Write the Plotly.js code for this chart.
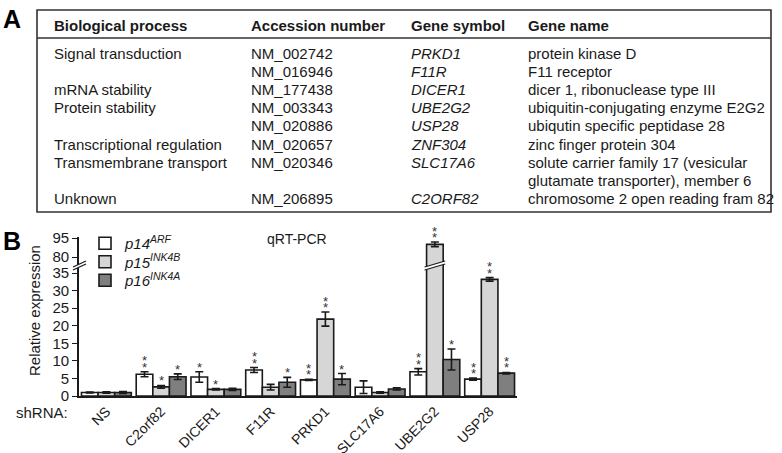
<!DOCTYPE html>
<html>
<head>
<meta charset="utf-8">
<script src="https://cdn.plot.ly/plotly-3.0.1.min.js"></script>
<style>html,body{margin:0;padding:0;background:#fff;}#chart{width:782px;height:453px;}</style>
</head>
<body>
<div id="chart"></div>
<script>
// ---------- Panel A table data ----------
var tableHeaders = ['Biological process', 'Accession number', 'Gene symbol', 'Gene name'];
var processes = ['Signal transduction', '', 'mRNA stability', 'Protein stability', '', 'Transcriptional regulation', 'Transmembrane transport', '', 'Unknown'];
var accessions = ['NM_002742', 'NM_016946', 'NM_177438', 'NM_003343', 'NM_020886', 'NM_020657', 'NM_020346', '', 'NM_206895'];
var geneSymbols = ['PRKD1', 'F11R', 'DICER1', 'UBE2G2', 'USP28', 'ZNF304', 'SLC17A6', '', 'C2ORF82'];
var geneNames = ['protein kinase D', 'F11 receptor', 'dicer 1, ribonuclease type III', 'ubiquitin-conjugating enzyme E2G2', 'ubiqutin specific peptidase 28', 'zinc finger protein 304', 'solute carrier family 17 (vesicular', 'glutamate transporter), member 6', 'chromosome 2 open reading fram 82'];

// ---------- Panel B bar data ----------
var categories = ['NS', 'C2orf82', 'DICER1', 'F11R', 'PRKD1', 'SLC17A6', 'UBE2G2', 'USP28'];
var seriesNames = ['<i>p14<sup>ARF</sup></i>', '<i>p15<sup>INK4B</sup></i>', '<i>p16<sup>INK4A</sup></i>'];
var p14 = [1.0, 6.2, 5.4, 7.4, 4.6, 2.5, 6.9, 4.8];
var p14Err = [0.15, 0.7, 1.5, 0.7, 0.15, 1.8, 0.9, 0.3];
var p15 = [1.0, 2.6, 1.9, 2.5, 21.9, 1.0, 90.0, 33.2];
var p15Err = [0.2, 0.4, 0.2, 0.8, 2.0, 0.2, 1.8, 0.5];
var p16 = [1.0, 5.5, 1.9, 3.9, 4.8, 2.0, 10.4, 6.5];
var p16Err = [0.3, 0.8, 0.3, 1.4, 1.6, 0.3, 3.0, 0.2];
var p14Stars = [0, 2, 1, 2, 2, 0, 2, 2];
var p15Stars = [0, 1, 1, 0, 2, 0, 2, 2];
var p16Stars = [0, 1, 0, 1, 1, 0, 1, 2];
var lowerTicks = [0, 5, 10, 15, 20, 25, 30, 35];
var upperTicks = [80, 95];

// ---------- layout helpers ----------
var W = 782, H = 453;
function px(x) { return x / W; }
function py(y) { return 1 - y / H; }
var FONT = 'Liberation Sans';
var TXT = '#1a1a1a';
var colors = ['#ffffff', '#d6d6d6', '#7f7f7f'];
var lowerMax = 37.3;
var upperRange = [73.7, 95.8];
var xLeft = 79, xRight = 517;
var bargap = 0.09;
var barPx = ((xRight - xLeft) / categories.length) * (1 - bargap) / 3;
var legendNames = ['legend', 'legend2', 'legend3'];
var legendY = [243.5, 262, 280.5];

var vals = [p14, p15, p16];
var errs = [p14Err, p15Err, p16Err];
var stars = [p14Stars, p15Stars, p16Stars];

var traces = [];
['y', 'y2'].forEach(function (ax) {
  for (var k = 0; k < 3; k++) {
    traces.push({
      type: 'bar', x: categories, y: vals[k], yaxis: ax, xaxis: 'x',
      name: seriesNames[k], showlegend: ax === 'y', legend: legendNames[k],
      marker: {color: colors[k], line: {color: '#1a1a1a', width: 1.6}},
      error_y: {type: 'data', array: errs[k], visible: true, color: '#1a1a1a', thickness: 1.6, width: 4},
      hoverinfo: 'skip'
    });
  }
});

var annotations = [];
var shapes = [];
function paperText(text, x, y, size, extra) {
  var a = {text: text, x: px(x), y: py(y), xref: 'paper', yref: 'paper', xanchor: 'center', yanchor: 'middle', showarrow: false, font: {family: FONT, size: size, color: TXT}};
  for (var key in (extra || {})) a[key] = extra[key];
  annotations.push(a);
}

// Panel labels
paperText('<b>A</b>', 11.5, 19, 25, {font: {family: FONT, size: 25, color: '#000'}});
paperText('<b>B</b>', 11.5, 241, 25, {font: {family: FONT, size: 25, color: '#000'}});

// Table
var colX = [52, 249, 409, 526];
var columns = [processes, accessions, geneSymbols, geneNames];
tableHeaders.forEach(function (h, c) {
  paperText('<b>' + h + '</b>', colX[c], 26, 15, {xanchor: 'left'});
});
columns.forEach(function (col, c) {
  col.forEach(function (t, r) {
    if (!t) return;
    paperText(c === 2 ? '<i>' + t + '</i>' : t, colX[c], 53 + r * 18.2, 15, {xanchor: 'left'});
  });
});
shapes.push({type: 'rect', xref: 'paper', yref: 'paper', x0: px(37), x1: px(771), y0: py(10), y1: py(212), line: {color: '#333', width: 1.6}});
shapes.push({type: 'line', xref: 'paper', yref: 'paper', x0: px(37), x1: px(771), y0: py(38), y1: py(38), line: {color: '#333', width: 1.4}});

// Chart texts
paperText('qRT-PCR', 297, 239, 14);
paperText('Relative expression', 34, 311, 15, {textangle: -90});
paperText('shRNA:', 42, 412, 15);

// Significance stars
for (var k = 0; k < 3; k++) {
  for (var i = 0; i < categories.length; i++) {
    var tipVal = vals[k][i] + errs[k][i];
    var starAxis = tipVal > lowerMax ? 'y2' : 'y';
    for (var s = 0; s < stars[k][i]; s++) {
      annotations.push({text: '*', x: i, y: tipVal, xref: 'x', yref: starAxis, xanchor: 'center', xshift: (k - 1) * barPx, yshift: -5 + s * 6.5, yanchor: 'bottom', showarrow: false, font: {family: FONT, size: 13, color: '#333'}});
    }
  }
}

// Axis break marks (white band + two slanted strokes)
var yb = 265;
function breakMark(xr, x0, x1) {
  shapes.push({type: 'line', xref: xr, yref: 'paper', x0: x0, y0: py(yb + 3.5), x1: x1, y1: py(yb - 2.5), line: {color: '#fff', width: 3}});
  shapes.push({type: 'line', xref: xr, yref: 'paper', x0: x0, y0: py(yb + 2), x1: x1, y1: py(yb - 4), line: {color: '#1a1a1a', width: 1.3}});
  shapes.push({type: 'line', xref: xr, yref: 'paper', x0: x0, y0: py(yb + 5), x1: x1, y1: py(yb - 1), line: {color: '#1a1a1a', width: 1.3}});
}
breakMark('paper', px(73), px(86));
var brokenIdx = p15.indexOf(Math.max.apply(null, p15));
var bw = (1 - bargap) / 3;
breakMark('x', brokenIdx - bw * 0.62, brokenIdx + bw * 0.62);

var axFont = {family: FONT, size: 15, color: TXT};
var layout = {
  width: W, height: H,
  margin: {l: 0, r: 0, t: 0, b: 0},
  paper_bgcolor: '#fff', plot_bgcolor: 'rgba(0,0,0,0)',
  barmode: 'group', bargap: bargap, bargroupgap: 0,
  showlegend: true,
  xaxis: {domain: [px(xLeft), px(xRight)], anchor: 'y', type: 'category', range: [-0.5, categories.length - 0.5], showline: true, linecolor: '#1a1a1a', linewidth: 1.6, ticks: '', tickangle: -45, tickfont: {family: FONT, size: 14, color: TXT}, showgrid: false, zeroline: false},
  yaxis: {domain: [py(396), py(yb)], anchor: 'x', range: [0, lowerMax], tickvals: lowerTicks, ticks: 'outside', ticklen: 5, tickwidth: 1.4, tickcolor: '#1a1a1a', showline: true, linecolor: '#1a1a1a', linewidth: 1.6, tickfont: axFont, showgrid: false, zeroline: false},
  yaxis2: {domain: [py(yb), py(237)], anchor: 'x', range: upperRange, tickvals: upperTicks, ticks: 'outside', ticklen: 5, tickwidth: 1.4, tickcolor: '#1a1a1a', showline: true, linecolor: '#1a1a1a', linewidth: 1.6, tickfont: axFont, showgrid: false, zeroline: false},
  annotations: annotations,
  shapes: shapes
};
legendNames.forEach(function (ln, k) {
  layout[ln] = {x: px(85), y: py(legendY[k]), xanchor: 'left', yanchor: 'middle', font: {family: FONT, size: 15, color: TXT}, bgcolor: 'rgba(0,0,0,0)', borderwidth: 0};
});
Plotly.newPlot('chart', traces, layout, {displayModeBar: false});
</script>
</body>
</html>
